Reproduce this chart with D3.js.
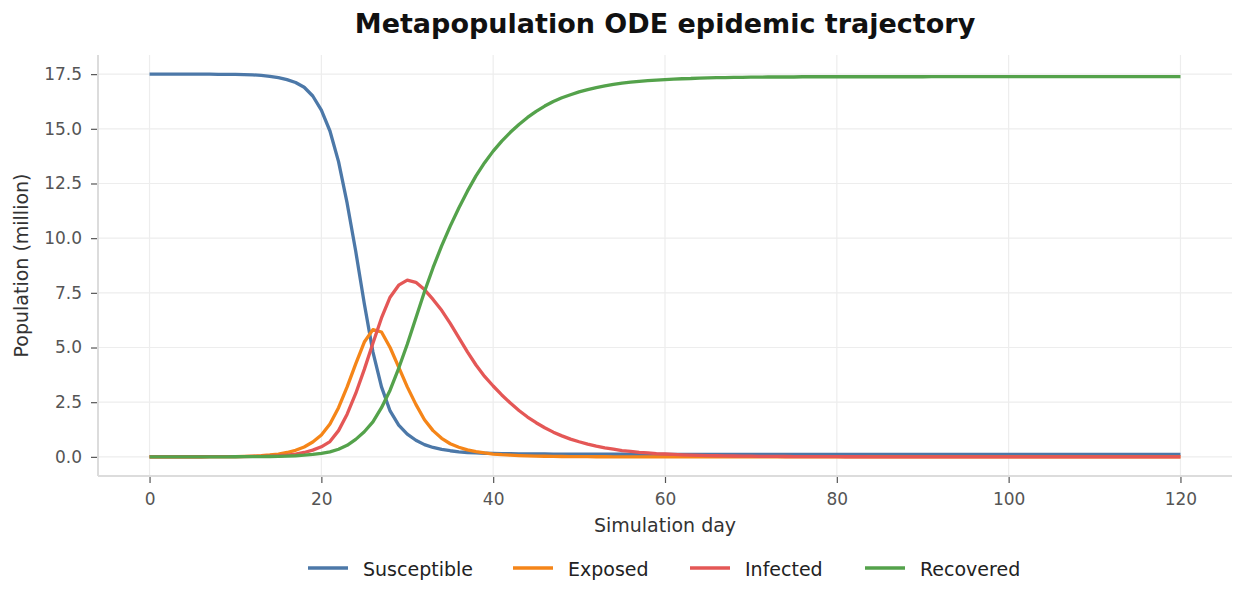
<!DOCTYPE html>
<html>
<head>
	<meta charset="utf-8">
	<title>Metapopulation ODE epidemic trajectory</title>
	<style>
		html, body { margin:0; padding:0; background:#fff; }
		body { font-family: "DejaVu Sans", Verdana, sans-serif; }
		.grid line { stroke:#ededed; stroke-width:1.2px; }
		.axis path { display:none; }
		.axis line { stroke:#555; stroke-width:1.2px; }
		.axis text { fill:#555; font-size:17px; font-family:"DejaVu Sans", sans-serif; }
		.spine { stroke:#dcdcdc; stroke-width:2px; }
		.serie { fill:none; stroke-width:3.3px; stroke-linejoin:round; stroke-linecap:butt; }
	</style>
	<script src="https://d3js.org/d3.v7.min.js"></script>
</head>
<body>
<svg id="chart"></svg>
<script>

	//data (population in million, one value per simulated day)
	var days = d3.range(0, 121);
	var seriesNames = ["Susceptible","Exposed","Infected","Recovered"];
	var seriesColors = ["#4c78a8","#f58518","#e45756","#54a24b"];

	var susceptible = [
		17.5,17.5,17.5,17.5,17.5,17.5,17.5,17.5,17.49,17.49,17.49,
		17.48,17.47,17.44,17.4,17.34,17.25,17.12,16.9,16.5,15.85,
		14.9,13.5,11.6,9.4,7.0,4.8,3.2,2.1,1.45,1.04,
		0.76,0.56,0.43,0.34,0.28,0.23,0.2,0.18,0.165,0.155,
		0.148,0.143,0.139,0.136,0.133,0.131,0.129,0.127,0.125,0.124,
		0.123,0.122,0.121,0.12,0.119,0.118,0.117,0.116,0.115,0.115,
		0.114,0.114,0.114,0.114,0.114,0.114,0.114,0.114,0.114,0.114,
		0.113,0.113,0.113,0.113,0.113,0.113,0.113,0.113,0.113,0.113,
		0.112,0.112,0.112,0.112,0.112,0.112,0.112,0.112,0.112,0.112,
		0.112,0.112,0.112,0.112,0.112,0.112,0.112,0.112,0.112,0.112,
		0.111,0.111,0.111,0.111,0.111,0.111,0.111,0.111,0.111,0.111,
		0.111,0.111,0.111,0.111,0.111,0.111,0.111,0.111,0.111,0.111
	];
	var exposed = [
		0.005,0.004,0.004,0.004,0.005,0.005,0.006,0.007,0.009,0.011,0.014,
		0.022,0.035,0.055,0.085,0.13,0.2,0.3,0.45,0.68,1.0,
		1.5,2.25,3.2,4.25,5.25,5.82,5.71,5.0,4.1,3.2,
		2.4,1.7,1.2,0.85,0.6,0.44,0.32,0.24,0.18,0.13,
		0.1,0.08,0.06,0.045,0.035,0.027,0.02,0.016,0.012,0.009,
		0.007,0.006,0.005,0.004,0.003,0.003,0.002,0.002,0.002,0.001,
		0.001,0.001,0.001,0.001,0.001,0.001,0.001,0.001,0.001,0.001,
		0,0,0,0,0,0,0,0,0,0,
		0,0,0,0,0,0,0,0,0,0,
		0,0,0,0,0,0,0,0,0,0,
		0,0,0,0,0,0,0,0,0,0,
		0,0,0,0,0,0,0,0,0,0
	];
	var infected = [
		0.005,0.005,0.005,0.005,0.005,0.006,0.006,0.007,0.008,0.009,0.011,
		0.014,0.018,0.025,0.035,0.05,0.08,0.13,0.2,0.31,0.46,
		0.7,1.2,1.95,2.9,4.0,5.2,6.35,7.3,7.85,8.08,
		7.98,7.65,7.2,6.7,6.1,5.45,4.8,4.2,3.68,3.24,
		2.83,2.46,2.12,1.82,1.56,1.33,1.13,0.96,0.81,0.69,
		0.58,0.49,0.41,0.35,0.29,0.25,0.21,0.18,0.15,0.13,
		0.11,0.095,0.08,0.07,0.06,0.05,0.045,0.04,0.035,0.03,
		0.025,0.022,0.019,0.016,0.014,0.012,0.01,0.009,0.008,0.007,
		0.006,0.005,0.005,0.004,0.004,0.003,0.003,0.003,0.002,0.002,
		0.002,0.002,0.002,0.002,0.002,0.001,0.001,0.001,0.001,0.001,
		0.001,0.001,0.001,0.001,0.001,0,0,0,0,0,
		0,0,0,0,0,0,0,0,0,0
	];
	var recovered = [
		0,0,0,0,0.001,0.001,0.002,0.002,0.003,0.004,0.005,
		0.007,0.009,0.012,0.017,0.024,0.035,0.05,0.075,0.11,0.16,
		0.23,0.35,0.53,0.8,1.15,1.6,2.25,3.05,4.05,5.15,
		6.35,7.55,8.65,9.65,10.55,11.38,12.15,12.85,13.45,13.98,
		14.44,14.84,15.2,15.52,15.8,16.04,16.25,16.42,16.56,16.69,
		16.79,16.88,16.96,17.03,17.09,17.13,17.17,17.2,17.23,17.25,
		17.27,17.29,17.3,17.32,17.33,17.34,17.34,17.35,17.35,17.36,
		17.36,17.37,17.37,17.37,17.37,17.38,17.38,17.38,17.38,17.38,
		17.38,17.38,17.38,17.38,17.38,17.38,17.38,17.38,17.38,17.38,
		17.39,17.39,17.39,17.39,17.39,17.39,17.39,17.39,17.39,17.39,
		17.39,17.39,17.39,17.39,17.39,17.39,17.39,17.39,17.39,17.39,
		17.39,17.39,17.39,17.39,17.39,17.39,17.39,17.39,17.39,17.39
	];
	var xTicks = [0,20,40,60,80,100,120];
	var yTicks = [0,2.5,5,7.5,10,12.5,15,17.5];

	var seriesValues = [susceptible, exposed, infected, recovered];

	//layout
	var W = 1245, H = 601,
			m = {left:98, right:13, top:55, bottom:125},
			iw = W - m.left - m.right,
			ih = H - m.top - m.bottom;

	var svg = d3.select("#chart").attr("width", W).attr("height", H);
	svg.append("rect").attr("width", W).attr("height", H).attr("fill","#fff");

	var x = d3.scaleLinear().domain([-6, 126]).range([0, iw]);
	var y = d3.scaleLinear().domain([-0.875, 18.375]).range([ih, 0]);

	var g = svg.append("g").attr("transform","translate("+m.left+","+m.top+")");

	//grid
	var grid = g.append("g").attr("class","grid");
	grid.selectAll(".gx").data(xTicks).enter().append("line")
			.attr("x1", function(d){ return x(d); }).attr("x2", function(d){ return x(d); })
			.attr("y1", 0).attr("y2", ih);
	grid.selectAll(".gy").data(yTicks).enter().append("line")
			.attr("x1", 0).attr("x2", iw)
			.attr("y1", function(d){ return y(d); }).attr("y2", function(d){ return y(d); });

	//axes
	g.append("g").attr("class","axis").attr("transform","translate(0,"+ih+")")
			.call(d3.axisBottom(x).tickValues(xTicks).tickSize(7).tickPadding(10).tickFormat(d3.format("d")));
	g.append("g").attr("class","axis")
			.call(d3.axisLeft(y).tickValues(yTicks).tickSize(7).tickPadding(9).tickFormat(d3.format(".1f")));

	//spines
	g.append("line").attr("class","spine").attr("x1",0).attr("x2",0).attr("y1",0).attr("y2",ih);
	g.append("line").attr("class","spine").attr("x1",0).attr("x2",iw).attr("y1",ih).attr("y2",ih);

	//lines
	var line = d3.line()
			.x(function(d,i){ return x(days[i]); })
			.y(function(d){ return y(d); });
	g.selectAll(".serie").data(seriesValues).enter().append("path")
			.attr("class","serie")
			.attr("d", line)
			.attr("stroke", function(d,i){ return seriesColors[i]; });

	//title and labels
	svg.append("text").attr("x", m.left + iw/2).attr("y", 33)
			.attr("text-anchor","middle").style("font-size","27px").style("font-weight","bold").attr("fill","#111")
			.text("Metapopulation ODE epidemic trajectory");
	svg.append("text").attr("x", m.left + iw/2).attr("y", 532)
			.attr("text-anchor","middle").style("font-size","19px").attr("fill","#333")
			.text("Simulation day");
	svg.append("text").attr("transform","translate(28,"+(m.top+ih/2)+") rotate(-90)")
			.attr("text-anchor","middle").style("font-size","19px").attr("fill","#333")
			.text("Population (million)");

	//legend
	var legX = [308, 513, 690, 865];
	var leg = svg.append("g").attr("transform","translate(0,568)");
	seriesNames.forEach(function(name, i){
		leg.append("line").attr("x1", legX[i]).attr("x2", legX[i]+40).attr("y1",0).attr("y2",0)
				.attr("stroke", seriesColors[i]).attr("stroke-width",3.5);
		leg.append("text").attr("x", legX[i]+55).attr("y", 8).style("font-size","19px").attr("fill","#222")
				.text(name);
	});

</script>
</body>
</html>
